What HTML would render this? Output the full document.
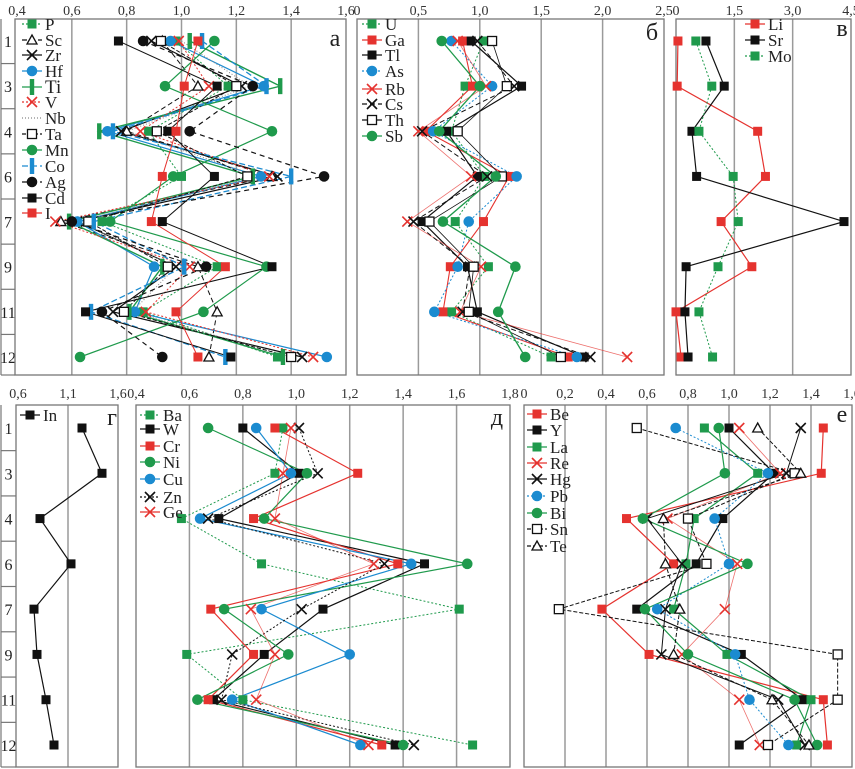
<!DOCTYPE html>
<html><head><meta charset="utf-8"><style>
html,body{margin:0;padding:0;background:#fff;}
svg{display:block;font-family:"Liberation Serif",serif;}
</style></head><body>
<svg id="chart" width="855" height="769" viewBox="0 0 855 769" xmlns="http://www.w3.org/2000/svg"></svg>
<script>
// ---- categories (sample rows) ----
const rows = ['1','3','4','6','7','9','11','12'];
// ---- panel а ----
const P  = [0.98,1.17,0.88,1.00,0.71,1.13,0.86,1.35];
const Sc = [0.93,1.06,0.80,1.33,0.56,1.06,1.13,1.10];
const Zr = [0.89,1.22,0.78,1.35,0.62,0.98,0.75,1.44];
const Hf = [0.96,1.30,0.73,1.29,0.62,0.90,0.83,1.53];
const Ti = [1.03,1.36,0.70,1.26,0.59,0.93,0.81,1.37];
const V  = [0.99,1.10,0.85,1.32,0.54,1.03,0.87,1.48];
const Nb = [1.00,1.25,0.80,1.28,0.62,0.98,0.82,1.40];
const Ta = [0.925,1.20,0.91,1.24,0.66,0.95,0.79,1.40];
const Mn = [1.12,0.94,1.33,0.97,0.74,1.31,1.08,0.63];
const Co = [1.075,1.31,0.75,1.40,0.68,1.01,0.67,1.16];
const Ag = [0.86,1.26,1.03,1.52,0.60,1.09,0.71,0.93];
const Cd = [0.77,1.13,0.95,1.12,0.93,1.33,0.65,1.18];
const I_ = [1.06,1.01,0.98,0.93,0.89,1.16,0.98,1.06];
// ---- panel б ----
const U  = [1.03,0.88,0.77,1.04,0.80,1.07,0.77,1.58];
const Ga = [0.86,0.94,0.56,1.24,1.03,0.76,0.70,1.72];
const Tl = [0.93,1.34,0.73,0.98,0.53,0.90,0.98,1.85];
const As = [0.77,1.10,0.62,1.30,0.91,0.82,0.63,1.79];
const Rb = [0.82,1.05,0.50,0.93,0.41,1.01,0.84,2.20];
const Cs = [0.98,1.28,0.53,1.06,0.46,0.92,0.86,1.90];
const Th = [1.10,1.22,0.82,1.18,0.59,0.95,0.91,1.66];
const Sb = [0.69,1.00,0.67,1.13,0.70,1.29,1.15,1.37];
// ---- panel в ----
const Li = [0.05,0.03,2.10,2.30,1.16,1.95,0.00,0.13];
const Sr = [0.77,1.24,0.41,0.53,4.32,0.26,0.23,0.31];
const Mo = [0.51,0.92,0.59,1.47,1.60,1.08,0.59,0.94];
// ---- panel г ----
const In = [1.24,1.44,0.82,1.13,0.76,0.79,0.88,0.96];
// ---- panel д ----
const Ba = [0.95,0.92,0.57,0.87,1.61,0.59,0.80,1.66];
const W  = [0.80,1.01,0.71,1.48,1.10,0.88,0.69,1.37];
const Cr = [0.92,1.23,0.84,1.38,0.68,0.84,0.67,1.32];
const Ni = [0.67,1.04,0.88,1.64,0.73,0.97,0.63,1.40];
const Cu = [0.85,0.98,0.64,1.43,0.87,1.20,0.76,1.24];
const Zn = [1.01,1.08,0.67,1.33,1.02,0.76,0.72,1.44];
const Ge = [0.98,0.95,0.92,1.29,0.83,0.92,0.85,1.27];
// ---- panel е ----
const Be = [1.46,1.45,0.50,0.73,0.38,0.61,1.46,1.48];
const Y_ = [1.00,1.22,0.97,0.84,0.55,1.06,1.36,1.05];
const La = [0.88,1.14,0.83,0.79,0.73,0.99,1.40,1.33];
const Re = [1.05,1.25,0.70,1.04,0.98,0.77,1.05,1.15];
const Hg = [1.35,1.28,0.60,0.77,0.69,0.67,1.24,1.37];
const Pb = [0.74,1.19,0.93,1.00,0.65,1.03,1.10,1.29];
const Bi = [0.95,0.98,0.58,1.09,0.59,0.80,1.32,1.43];
const Sn = [0.55,1.32,0.80,0.89,0.17,1.53,1.53,1.19];
const Te = [1.14,1.35,0.68,0.69,0.76,0.73,1.21,1.39];
// ---- tick labels ----
const ticksA = ['0,4','0,6','0,8','1,0','1,2','1,4','1,6'];
const ticksB = ['0','0,5','1,0','1,5','2,0','2,5'];
const ticksC = ['0','1,5','3,0','4,5'];
const ticksG = ['0,6','1,1','1,6'];
const ticksD = ['0,4','0,6','0,8','1,0','1,2','1,4','1,6','1,8'];
const ticksE = ['0','0,2','0,4','0,6','0,8','1,0','1,2','1,4','1,6'];

const G='#1f9a4c', R='#e5332f', K='#111', B='#1b8bd0', GR='#888';
const svg=document.getElementById('chart');
const NS='http://www.w3.org/2000/svg';
function mk(tag,attrs,parent){const e=document.createElementNS(NS,tag);for(const k in attrs)e.setAttribute(k,attrs[k]);(parent||svg).appendChild(e);return e;}
function tnum(s){return parseFloat(s.replace(',','.'));}

function marker(g,type,x,y,col,name){
  let e;
  if(type==='sq'){e=mk('rect',{x:x-4.5,y:y-4.5,width:9,height:9,fill:col},g);}
  else if(type==='osq'){e=mk('rect',{x:x-4.5,y:y-4.5,width:9,height:9,fill:'#fff',stroke:K,'stroke-width':1.3},g);}
  else if(type==='ci'){e=mk('circle',{cx:x,cy:y,r:5.3,fill:col},g);}
  else if(type==='x'){e=mk('path',{d:`M${x-5} ${y-5}L${x+5} ${y+5}M${x-5} ${y+5}L${x+5} ${y-5}`,stroke:col,'stroke-width':1.6,fill:'none'},g);}
  else if(type==='tri'){e=mk('path',{d:`M${x} ${y-5}L${x+5} ${y+4}L${x-5} ${y+4}Z`,stroke:K,'stroke-width':1.3,fill:'#fff'},g);}
  else if(type==='bar'){e=mk('rect',{x:x-2.2,y:y-8,width:4.4,height:16,fill:col},g);}
  else return;
  
  
}

function panel(cfg){
  const g=mk('g',{});
  
  
  const sx=v=>cfg.x0+(v-cfg.vmin)/(cfg.vmax-cfg.vmin)*(cfg.x1-cfg.x0);
  const sy=i=>cfg.r0+i*(cfg.r1-cfg.r0)/(rows.length-1);
  // grid
  cfg.ticks.forEach((t,i)=>{
    const x=sx(tnum(t));
    if(i>0&&i<cfg.ticks.length-1){const l=mk('line',{x1:x,x2:x,y1:cfg.y0,y2:cfg.y1,stroke:'#9a9a9a','stroke-width':1.5},g);
      
      }
    const tx=mk('text',{x:x,y:cfg.ty,'font-size':14,'text-anchor':'middle',fill:'#333'},g);
    tx.textContent=t;
    
    
  });
  const fr=mk('rect',{x:cfg.x0-(cfg.pad||0),y:cfg.y0,width:cfg.x1-cfg.x0+(cfg.pad||0),height:cfg.y1-cfg.y0,fill:'none',stroke:'#777','stroke-width':1.3},g);
  
  
  // series
  cfg.series.forEach(s=>{
    const pts=s.d.map((v,i)=>[sx(v),sy(i)]);
    const pl=mk('polyline',{points:pts.map(p=>p.join(',')).join(' '),fill:'none',stroke:s.c,'stroke-width':s.w||1.2,'stroke-dasharray':s.dash||'none',opacity:s.op||1},g);
    
    
  });
  cfg.series.forEach(s=>{
    s.d.forEach((v,i)=>marker(g,s.m,sx(v),sy(i),s.c,'point-'+s.n.toLowerCase()));
  });
  // legend
  cfg.series.forEach((s,i)=>{
    const ly=cfg.ly[i];const lx=cfg.lx;
    const l=mk('line',{x1:lx,x2:lx+20,y1:ly,y2:ly,stroke:s.c,'stroke-width':1.3,'stroke-dasharray':s.dash||'none'},g);
    
    
    marker(g,s.m,lx+10,ly,s.c,'legend-marker');
    const t=mk('text',{x:lx+23,y:ly+6,'font-size':s.n==='Ti'?19:17,fill:'#222'},g);
    t.textContent=s.n;
    
    
  });
  const pl=mk('text',{x:cfg.lab[0],y:cfg.lab[1],'font-size':24,'text-anchor':'middle',fill:'#222'},g);
  pl.textContent=cfg.letter;
  
  
  return sy;
}

function rowLabels(x0,x1,y0,y1,r0,r1){
  const g=mk('g',{});
  
  
  const st=(r1-r0)/(rows.length-1);
  mk('line',{x1:x0,x2:x0,y1:y0,y2:y1,stroke:'#777','stroke-width':1.2},g);
  mk('line',{x1:x0,x2:x1,y1:y1,y2:y1,stroke:'#777','stroke-width':1.2},g);
  rows.forEach((r,i)=>{
    const y=r0+i*st;
    const t=mk('text',{x:(x0+x1)/2,y:y+6,'font-size':16,'text-anchor':'middle',fill:'#222'},g);
    t.textContent=r;
    
    
    if(i<rows.length-1)mk('line',{x1:x0,x2:x1,y1:y+st/2,y2:y+st/2,stroke:'#777','stroke-width':1.2},g);
  });
}

const topLy=[24,40,55,71,87,102,118,134,150,166,182,198,213];
rowLabels(1,15,19,375,41,357);
panel({name:'panel-a',letter:'а',lab:[335,46],x0:17,x1:346,vmin:0.4,vmax:1.6,ticks:ticksA,ty:15,y0:19,y1:375,r0:41,r1:357,pad:2,lx:22,ly:topLy,
  series:[
   {n:'P',d:P,c:G,m:'sq',dash:'2,2',w:1},
   {n:'Sc',d:Sc,c:K,m:'tri',dash:'5,3',w:1},
   {n:'Zr',d:Zr,c:K,m:'x',w:1.2},
   {n:'Hf',d:Hf,c:B,m:'ci',w:1.2},
   {n:'Ti',d:Ti,c:G,m:'bar',w:1.4},
   {n:'V',d:V,c:R,m:'x',dash:'2,2',w:1},
   {n:'Nb',d:Nb,c:GR,m:'none',dash:'1,2',w:1},
   {n:'Ta',d:Ta,c:K,m:'osq',dash:'4,2',w:1},
   {n:'Mn',d:Mn,c:G,m:'ci',w:1.2},
   {n:'Co',d:Co,c:B,m:'bar',dash:'6,3',w:1.3},
   {n:'Ag',d:Ag,c:K,m:'ci',dash:'5,4',w:1.2},
   {n:'Cd',d:Cd,c:K,m:'sq',w:1},
   {n:'I',d:I_,c:R,m:'sq',w:1}
  ]});
panel({name:'panel-b',letter:'б',lab:[652,40],x0:357,x1:664,vmin:0,vmax:2.5,ticks:ticksB,ty:15,y0:19,y1:375,r0:41,r1:357,lx:362,ly:[24,40,55,71,89,104,120,136],
  series:[
   {n:'U',d:U,c:G,m:'sq',dash:'2,2',w:1},
   {n:'Ga',d:Ga,c:R,m:'sq',w:1.1},
   {n:'Tl',d:Tl,c:K,m:'sq',w:1.2},
   {n:'As',d:As,c:B,m:'ci',dash:'2,2',w:1},
   {n:'Rb',d:Rb,c:R,m:'x',w:0.8,op:0.7},
   {n:'Cs',d:Cs,c:K,m:'x',dash:'5,3',w:1},
   {n:'Th',d:Th,c:K,m:'osq',w:0.8},
   {n:'Sb',d:Sb,c:G,m:'ci',w:1.3}
  ]});
panel({name:'panel-v',letter:'в',lab:[842,36],x0:676,x1:851,vmin:0,vmax:4.5,ticks:ticksC,ty:15,y0:19,y1:375,r0:41,r1:357,lx:745,ly:[24,40,56],
  series:[
   {n:'Li',d:Li,c:R,m:'sq',w:1.2},
   {n:'Sr',d:Sr,c:K,m:'sq',w:1.2},
   {n:'Mo',d:Mo,c:G,m:'sq',dash:'2,2',w:1}
  ]});
rowLabels(1,16,405,767,428,745);
panel({name:'panel-g',letter:'г',lab:[112,425],x0:18,x1:118,vmin:0.6,vmax:1.6,ticks:ticksG,ty:398,y0:405,y1:767,r0:428,r1:745,pad:2,lx:20,ly:[415],
  series:[{n:'In',d:In,c:K,m:'sq',w:1.2}]});
panel({name:'panel-d',letter:'д',lab:[497,425],x0:136,x1:510,vmin:0.4,vmax:1.8,ticks:ticksD,ty:398,y0:405,y1:767,r0:428,r1:745,lx:140,ly:[415,429,446,462,479,497,512],
  series:[
   {n:'Ba',d:Ba,c:G,m:'sq',dash:'2,2',w:1},
   {n:'W',d:W,c:K,m:'sq',w:1.2},
   {n:'Cr',d:Cr,c:R,m:'sq',w:1.2},
   {n:'Ni',d:Ni,c:G,m:'ci',w:1.2},
   {n:'Cu',d:Cu,c:B,m:'ci',w:1.2},
   {n:'Zn',d:Zn,c:K,m:'x',dash:'2,2',w:1},
   {n:'Ge',d:Ge,c:R,m:'x',w:0.8,op:0.7}
  ]});
panel({name:'panel-e',letter:'е',lab:[842,422],x0:524,x1:852,vmin:0,vmax:1.6,ticks:ticksE,ty:398,y0:405,y1:767,r0:428,r1:745,lx:527,ly:[414,430,447,463,479,496,513,529,546],
  series:[
   {n:'Be',d:Be,c:R,m:'sq',w:1.2},
   {n:'Y',d:Y_,c:K,m:'sq',w:1.2},
   {n:'La',d:La,c:G,m:'sq',w:1.2},
   {n:'Re',d:Re,c:R,m:'x',w:0.8,op:0.7},
   {n:'Hg',d:Hg,c:K,m:'x',w:1},
   {n:'Pb',d:Pb,c:B,m:'ci',dash:'2,2',w:1},
   {n:'Bi',d:Bi,c:G,m:'ci',w:1.2},
   {n:'Sn',d:Sn,c:K,m:'osq',dash:'4,2',w:1},
   {n:'Te',d:Te,c:K,m:'tri',dash:'4,2',w:1}
  ]});
</script>
</body></html>
